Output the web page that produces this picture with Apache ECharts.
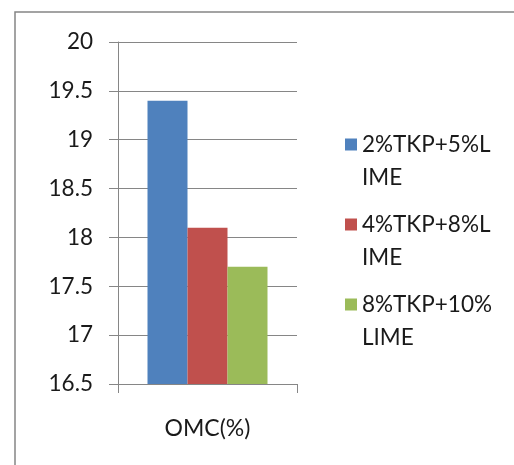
<!DOCTYPE html>
<html>
<head>
<meta charset="utf-8">
<script src="https://cdn.jsdelivr.net/npm/echarts@6/dist/echarts.min.js"></script>
<style>
  html, body { margin: 0; padding: 0; background: #fff; }
  #chart { width: 514px; height: 465px; }
</style>
</head>
<body>
<div id="chart"></div>
<script>
// Optimum moisture content for three TKP + lime mixes
const categories = ['OMC(%)'];
const seriesNames = ['2%TKP+5%LIME', '4%TKP+8%LIME', '8%TKP+10%LIME'];
// leading blank line keeps the swatch level with the first text line
const legendLines = ['\n2%TKP+5%L\nIME', '\n4%TKP+8%L\nIME', '\n8%TKP+10%\nLIME'];
const mix1 = [19.4];
const mix2 = [18.1];
const mix3 = [17.7];
const yTicks = { min: 16.5, max: 20, step: 0.5 };

const colors = ['#4F81BD', '#C0504D', '#9BBB59'];
const values = [mix1, mix2, mix3];
const font = 'Lato, "Open Sans", sans-serif';

const chart = echarts.init(document.getElementById('chart'));
chart.setOption({
  animation: false,
  textStyle: { fontFamily: font },
  graphic: [{
    type: 'rect',
    shape: { x: 15, y: 12, width: 700, height: 700 },
    style: { fill: 'none', stroke: '#858585', lineWidth: 1.5 },
    silent: true
  }],
  grid: { left: 118, top: 42, right: 217, bottom: 81 },
  legend: {
    orient: 'vertical',
    left: 340,
    top: 90,
    icon: 'rect',
    itemWidth: 12,
    itemHeight: 12,
    itemGap: -19,
    formatter: name => legendLines[seriesNames.indexOf(name)],
    textStyle: {
      fontFamily: font,
      fontSize: 22.5,
      color: '#1a1a1a',
      lineHeight: 33
    },
    data: seriesNames
  },
  xAxis: {
    type: 'category',
    data: categories,
    axisLine: { lineStyle: { color: '#868686', width: 1 } },
    axisTick: { show: true, length: 9, lineStyle: { color: '#868686' } },
    axisLabel: { fontSize: 23, color: '#1a1a1a', margin: 33, fontFamily: font }
  },
  yAxis: {
    type: 'value',
    min: yTicks.min,
    max: yTicks.max,
    interval: yTicks.step,
    axisLine: { show: true, lineStyle: { color: '#868686', width: 1 } },
    axisTick: { show: true, length: 9, lineStyle: { color: '#868686' } },
    axisLabel: { fontSize: 22.5, color: '#1a1a1a', margin: 25, fontFamily: font },
    splitLine: { lineStyle: { color: '#868686', width: 1 } }
  },
  series: seriesNames.map((name, i) => ({
    name,
    type: 'bar',
    data: values[i],
    barWidth: 40,
    barGap: '0%',
    itemStyle: { color: colors[i] }
  }))
});
</script>
</body>
</html>
